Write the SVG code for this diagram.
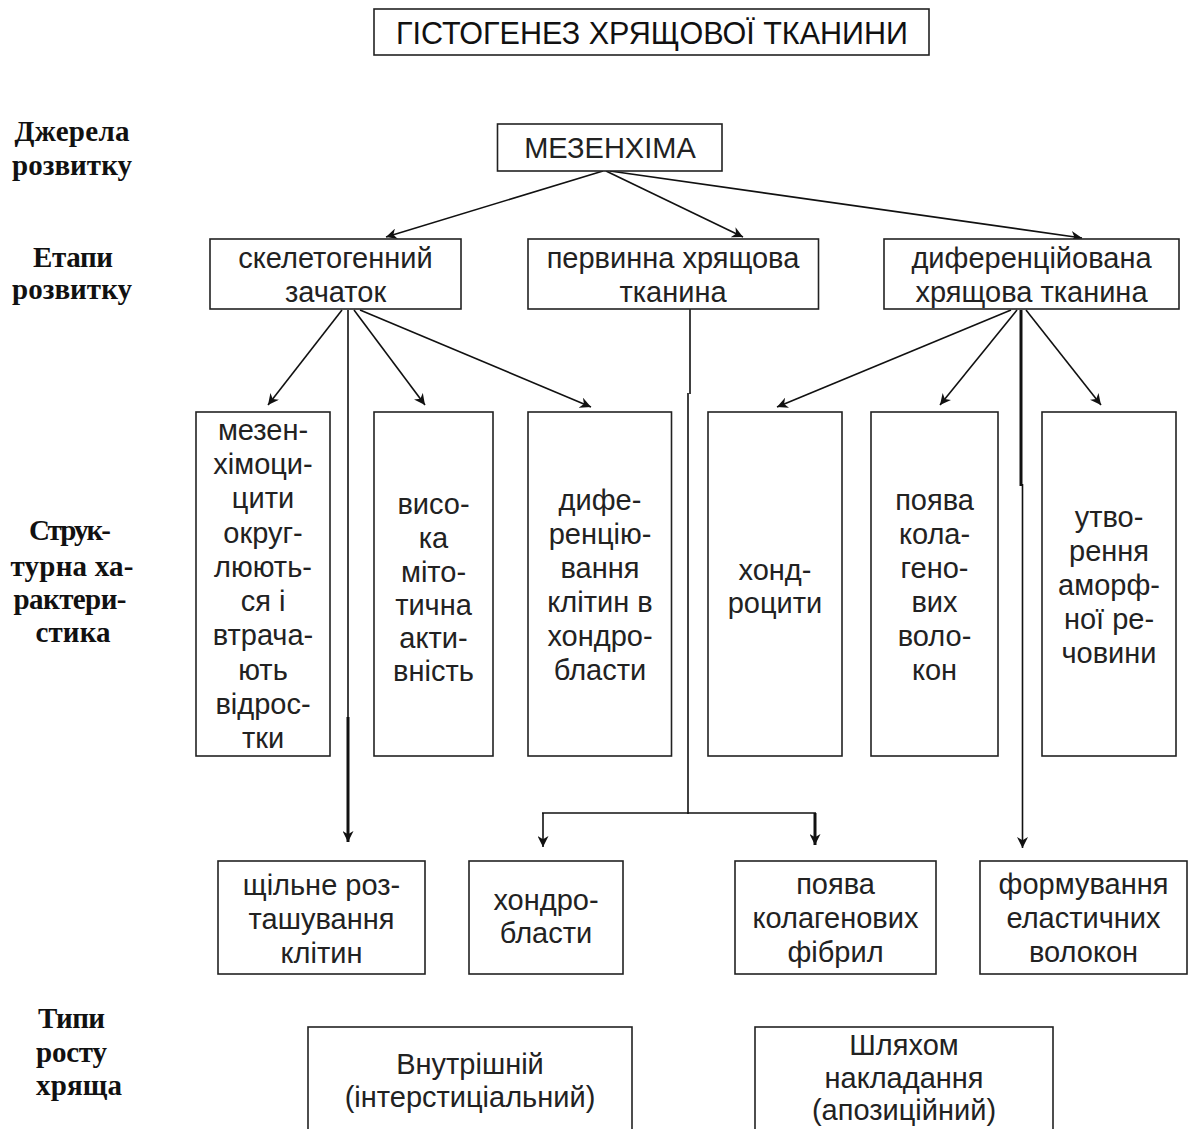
<svg xmlns="http://www.w3.org/2000/svg" width="1190" height="1129" viewBox="0 0 1190 1129">
<defs>
<style>
.box{fill:#fff;stroke:#222;stroke-width:1.6}
.t{font-family:"Liberation Sans",Arial,sans-serif;font-size:29px;fill:#222;text-anchor:middle}
.ttl{font-family:"Liberation Sans",Arial,sans-serif;font-size:32px;fill:#111;text-anchor:middle}
.lbl{font-family:"Liberation Serif","Times New Roman",serif;font-weight:bold;font-size:29px;fill:#111;text-anchor:middle}
.lbll{font-family:"Liberation Serif","Times New Roman",serif;font-weight:bold;font-size:29px;fill:#111;text-anchor:start}
.c{stroke:#111;stroke-width:1.6;fill:none}
.k{stroke:#111;stroke-width:3;fill:none}
</style>
<marker id="ah" viewBox="0 0 10 10" refX="10" refY="5" markerWidth="11" markerHeight="11" markerUnits="userSpaceOnUse" orient="auto">
<path d="M0,0 L10,5 L0,10 L3,5 Z" fill="#111"/>
</marker>
</defs>
<rect x="0" y="0" width="1190" height="1129" fill="#fff"/>

<g id="labels">
<text class="lbl" x="72" y="141" textLength="115">Джерела</text>
<text class="lbl" x="72" y="175" textLength="120">розвитку</text>
<text class="lbl" x="73" y="267" textLength="80">Етапи</text>
<text class="lbl" x="72" y="299" textLength="120">розвитку</text>
<text class="lbl" x="70" y="540" textLength="82">Струк-</text>
<text class="lbl" x="72" y="576" textLength="123">турна ха-</text>
<text class="lbl" x="70" y="609" textLength="113">рактери-</text>
<text class="lbl" x="73" y="642" textLength="75">стика</text>
<text class="lbll" x="38" y="1028" textLength="67">Типи</text>
<text class="lbll" x="36" y="1062" textLength="71">росту</text>
<text class="lbll" x="36" y="1095" textLength="86">хряща</text>
</g>

<g id="title">
<rect class="box" x="374" y="9" width="555" height="46"/>
<text class="ttl" x="652" y="44" textLength="512" lengthAdjust="spacingAndGlyphs">ГІСТОГЕНЕЗ ХРЯЩОВОЇ ТКАНИНИ</text>
</g>

<g id="connectors">
<line class="c" x1="603" y1="171" x2="386" y2="237" marker-end="url(#ah)"/>
<line class="c" x1="606" y1="171" x2="743" y2="237" marker-end="url(#ah)"/>
<line class="c" x1="610" y1="171" x2="1082" y2="238" marker-end="url(#ah)"/>
<line class="c" x1="342" y1="310" x2="268" y2="405" marker-end="url(#ah)"/>
<line class="c" x1="348" y1="310" x2="348" y2="720"/>
<line class="k" x1="348" y1="717" x2="348" y2="842" marker-end="url(#ah)"/>
<line class="c" x1="354" y1="310" x2="425" y2="405" marker-end="url(#ah)"/>
<line class="c" x1="360" y1="310" x2="591" y2="407" marker-end="url(#ah)"/>
<line class="c" x1="690" y1="309" x2="690" y2="394"/>
<line class="c" x1="688" y1="393" x2="688" y2="814"/>
<line class="c" x1="542" y1="813" x2="816" y2="813"/>
<line class="c" x1="543" y1="813" x2="543" y2="847" marker-end="url(#ah)"/>
<line class="k" x1="815" y1="813" x2="815" y2="845" marker-end="url(#ah)"/>
<line class="c" x1="1011" y1="310" x2="777" y2="407" marker-end="url(#ah)"/>
<line class="c" x1="1017" y1="310" x2="940" y2="405" marker-end="url(#ah)"/>
<line class="c" x1="1026" y1="310" x2="1101" y2="405" marker-end="url(#ah)"/>
<line class="k" x1="1021" y1="310" x2="1021" y2="486"/>
<line class="c" x1="1022.5" y1="484" x2="1022.5" y2="848" marker-end="url(#ah)"/>
</g>

<g id="mesenchyme">
<rect class="box" x="497.5" y="124" width="224.5" height="47"/>
<text class="t" x="610" y="158">МЕЗЕНХІМА</text>
</g>

<g id="skeletogenic">
<rect class="box" x="210" y="239" width="251" height="70"/>
<text class="t"><tspan x="335.5" y="268">скелетогенний</tspan><tspan x="335.5" y="302">зачаток</tspan></text>
</g>
<g id="primary">
<rect class="box" x="528" y="239" width="290.5" height="70"/>
<text class="t"><tspan x="673" y="268">первинна хрящова</tspan><tspan x="673" y="302">тканина</tspan></text>
</g>
<g id="differentiated">
<rect class="box" x="884" y="239" width="295" height="70"/>
<text class="t"><tspan x="1031.5" y="268">диференційована</tspan><tspan x="1031.5" y="302">хрящова тканина</tspan></text>
</g>

<g id="mesenchymocytes">
<rect class="box" x="196" y="412" width="134" height="344"/>
<text class="t"><tspan x="263" y="440">мезен-</tspan><tspan x="263" y="474">хімоци-</tspan><tspan x="263" y="508">цити</tspan><tspan x="263" y="543">округ-</tspan><tspan x="263" y="577">люють-</tspan><tspan x="263" y="611">ся і</tspan><tspan x="263" y="645">втрача-</tspan><tspan x="263" y="680">ють</tspan><tspan x="263" y="714">відрос-</tspan><tspan x="263" y="748">тки</tspan></text>
</g>
<g id="mitotic">
<rect class="box" x="374" y="412" width="119" height="344"/>
<text class="t"><tspan x="433.5" y="514">висо-</tspan><tspan x="433.5" y="548">ка</tspan><tspan x="433.5" y="582">міто-</tspan><tspan x="433.5" y="615">тична</tspan><tspan x="433.5" y="648">акти-</tspan><tspan x="433.5" y="681">вність</tspan></text>
</g>
<g id="differentiation">
<rect class="box" x="528" y="412" width="143.5" height="344"/>
<text class="t"><tspan x="600" y="510">дифе-</tspan><tspan x="600" y="544">ренцію-</tspan><tspan x="600" y="578">вання</tspan><tspan x="600" y="612">клітин в</tspan><tspan x="600" y="646">хондро-</tspan><tspan x="600" y="680">бласти</tspan></text>
</g>
<g id="chondrocytes">
<rect class="box" x="708" y="412" width="134" height="344"/>
<text class="t"><tspan x="775" y="580">хонд-</tspan><tspan x="775" y="613">роцити</tspan></text>
</g>
<g id="collagen-fibers">
<rect class="box" x="871" y="412" width="127" height="344"/>
<text class="t"><tspan x="934.5" y="510">поява</tspan><tspan x="934.5" y="544">кола-</tspan><tspan x="934.5" y="578">гено-</tspan><tspan x="934.5" y="612">вих</tspan><tspan x="934.5" y="646">воло-</tspan><tspan x="934.5" y="680">кон</tspan></text>
</g>
<g id="amorphous">
<rect class="box" x="1042" y="412" width="134" height="344"/>
<text class="t"><tspan x="1109" y="527">утво-</tspan><tspan x="1109" y="561">рення</tspan><tspan x="1109" y="595">аморф-</tspan><tspan x="1109" y="629">ної ре-</tspan><tspan x="1109" y="663">човини</tspan></text>
</g>

<g id="dense-cells">
<rect class="box" x="218" y="861" width="207" height="113"/>
<text class="t"><tspan x="321.5" y="895">щільне роз-</tspan><tspan x="321.5" y="929">ташування</tspan><tspan x="321.5" y="963">клітин</tspan></text>
</g>
<g id="chondroblasts">
<rect class="box" x="469" y="861" width="154" height="113"/>
<text class="t"><tspan x="546" y="910">хондро-</tspan><tspan x="546" y="943">бласти</tspan></text>
</g>
<g id="collagen-fibrils">
<rect class="box" x="735" y="861" width="201" height="113"/>
<text class="t"><tspan x="835.5" y="894">поява</tspan><tspan x="835.5" y="928">колагенових</tspan><tspan x="835.5" y="962">фібрил</tspan></text>
</g>
<g id="elastic-fibers">
<rect class="box" x="980" y="861" width="207" height="113"/>
<text class="t"><tspan x="1083.5" y="894">формування</tspan><tspan x="1083.5" y="928">еластичних</tspan><tspan x="1083.5" y="962">волокон</tspan></text>
</g>

<g id="interstitial">
<rect class="box" x="308" y="1027" width="324" height="120"/>
<text class="t"><tspan x="470" y="1074">Внутрішній</tspan><tspan x="470" y="1107">(інтерстиціальний)</tspan></text>
</g>
<g id="appositional">
<rect class="box" x="755" y="1027" width="298" height="120"/>
<text class="t"><tspan x="904" y="1055">Шляхом</tspan><tspan x="904" y="1088">накладання</tspan><tspan x="904" y="1120">(апозиційний)</tspan></text>
</g>
</svg>
